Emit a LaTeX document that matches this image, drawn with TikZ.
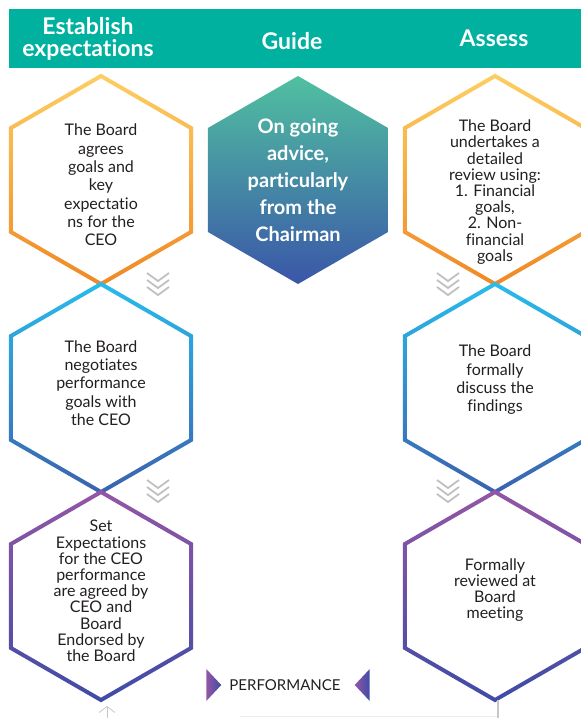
\documentclass[tikz,border=0pt]{standalone}
\usepackage{fontspec}
\setmainfont{Lato}[Ligatures = NoCommon]
\usetikzlibrary{positioning, arrows.meta, calc}

\definecolor{bandteal}{RGB}{0,177,160}
\definecolor{goldtop}{RGB}{253,206,98}
\definecolor{goldbot}{RGB}{240,136,36}
\definecolor{skytop}{RGB}{40,188,236}
\definecolor{skybot}{RGB}{60,98,174}
\definecolor{plumtop}{RGB}{148,86,166}
\definecolor{plumbot}{RGB}{62,76,166}
\definecolor{guidetop}{RGB}{80,192,160}
\definecolor{guidebot}{RGB}{58,86,168}
\definecolor{inkgrey}{RGB}{35,31,32}
\definecolor{chevgrey}{RGB}{192,192,192}

% hexagon outline (pointy top) with a vertical colour run
\newcommand{\hexring}[3]{%
  \shade[top color=#2, bottom color=#3, even odd rule]
    ($(#1)+(90:106.3pt)$) -- ($(#1)+(150:106.3pt)$) -- ($(#1)+(210:106.3pt)$)
    -- ($(#1)+(270:106.3pt)$) -- ($(#1)+(330:106.3pt)$) -- ($(#1)+(30:106.3pt)$) -- cycle
    ($(#1)+(90:101.7pt)$) -- ($(#1)+(150:101.7pt)$) -- ($(#1)+(210:101.7pt)$)
    -- ($(#1)+(270:101.7pt)$) -- ($(#1)+(330:101.7pt)$) -- ($(#1)+(30:101.7pt)$) -- cycle;}

\tikzset{ bodytext/.style = { align = center
                            , inner sep = 0pt
                            , text = inkgrey
                            , font = \fontsize{16}{18.3}\selectfont }
        , tighttext/.style = { bodytext
                             , font = \fontsize{16}{16.2}\selectfont }
        , headtext/.style = { align = center
                            , inner sep = 0pt
                            , text = white
                            , font = \fontsize{23}{22}\selectfont\bfseries }
        , guidetext/.style = { align = center
                             , inner sep = 0pt
                             , text = white
                             , font = \fontsize{20}{27}\selectfont\bfseries }
        , chevrons/.pic = { \foreach \k in {0,7,14}
                              \draw[chevgrey, line width = 1.8pt] (-11,-\k) -- (0,-\k-8) -- (11,-\k); }
        }

\begin{document}
\begin{tikzpicture}[ x = 1pt
                   , y = 1pt
                   , node distance = 208pt and 197pt
                   ]

  \useasboundingbox (0,0) rectangle (581,-718);

  % header band
  \fill[bandteal] (9,-9) rectangle (581,-68);
  \node (hdexpect) [headtext] at (88,-39) {Establish\\expectations};
  \node (hdguide)  [headtext] at (292,-41) {Guide};
  \node (hdassess) [headtext] at (494,-38) {Assess};

  % hexagon centres
  \coordinate (e1) at (101,-180);
  \coordinate[below = of e1] (e2);
  \coordinate[below = of e2] (e3);
  \coordinate[right = of e1] (g1);
  \coordinate[right = of g1] (a1);
  \coordinate[below = of a1] (a2);
  \coordinate[below = of a2] (a3);

  \hexring{e1}{goldtop}{goldbot}
  \hexring{a1}{goldtop}{goldbot}
  \hexring{e2}{skytop}{skybot}
  \hexring{a2}{skytop}{skybot}
  \hexring{e3}{plumtop}{plumbot}
  \hexring{a3}{plumtop}{plumbot}

  \shade[top color = guidetop, bottom color = guidebot]
    ($(g1)+(90:104pt)$) -- ($(g1)+(150:104pt)$) -- ($(g1)+(210:104pt)$)
    -- ($(g1)+(270:104pt)$) -- ($(g1)+(330:104pt)$) -- ($(g1)+(30:104pt)$) -- cycle;

  % texts
  \node (e1t) [bodytext, yshift = -5pt] at (e1)
    {The Board\\agrees\\goals and\\key\\expectatio\\ns for the\\CEO};
  \node (e2t) [bodytext, yshift = 5pt] at (e2)
    {The Board\\negotiates\\performance\\goals with\\the CEO};
  \node (e3t) [tighttext, yshift = 5pt] at (e3)
    {Set\\Expectations\\for the CEO\\performance\\are agreed by\\CEO and\\Board\\Endorsed by\\the Board};
  \node (g1t) [guidetext] at (g1)
    {On going\\advice,\\particularly\\from the\\Chairman};
  \node (a1t) [tighttext, yshift = -12pt] at (a1)
    {The Board\\undertakes a\\detailed\\review using:\\1. Financial\\goals,\\2. Non-\\financial\\goals};
  \node (a2t) [bodytext, yshift = 8pt] at (a2)
    {The Board\\formally\\discuss the\\findings};
  \node (a3t) [tighttext, yshift = 6pt] at (a3)
    {Formally\\reviewed at\\Board\\meeting};

  % flow markers
  \pic at ($(e1)+(57,-93)$) {chevrons};
  \pic at ($(e2)+(57,-92)$) {chevrons};
  \pic at ($(a1)+(-47,-93)$) {chevrons};
  \pic at ($(a2)+(-47,-92)$) {chevrons};

  % performance tag
  \node (perf) [inner sep = 0pt, text = inkgrey, font = \fontsize{15}{18}\selectfont] at (285,-685) {PERFORMANCE};
  \shade[left color = plumtop, right color = plumbot]
    ($(perf.west)+(-23,16)$) -- ($(perf.west)+(-8,0)$) -- ($(perf.west)+(-23,-16)$) -- cycle;
  \shade[left color = plumtop, right color = plumbot]
    ($(perf.east)+(29,16)$) -- ($(perf.east)+(14,0)$) -- ($(perf.east)+(29,-16)$) -- cycle;

  % cut-off lines at the foot
  \coordinate (arrowfoot) at (107,-722);
  \coordinate (uptip) at (107,-706);
  \draw[black!22, line width = 0.8pt, -{Straight Barb[length = 6pt, width = 16pt]}] (arrowfoot) -- (uptip);
  \coordinate (footleft) at (240,-716);
  \coordinate (footright) at (498,-716);
  \coordinate (footend) at (498,-722);
  \draw[black!8, line width = 1pt] (footleft) -- (footright);
  \draw[black!22, line width = 1.4pt] ($(a3)+(3,-104)$) -- (footend);

\end{tikzpicture}
\end{document}
